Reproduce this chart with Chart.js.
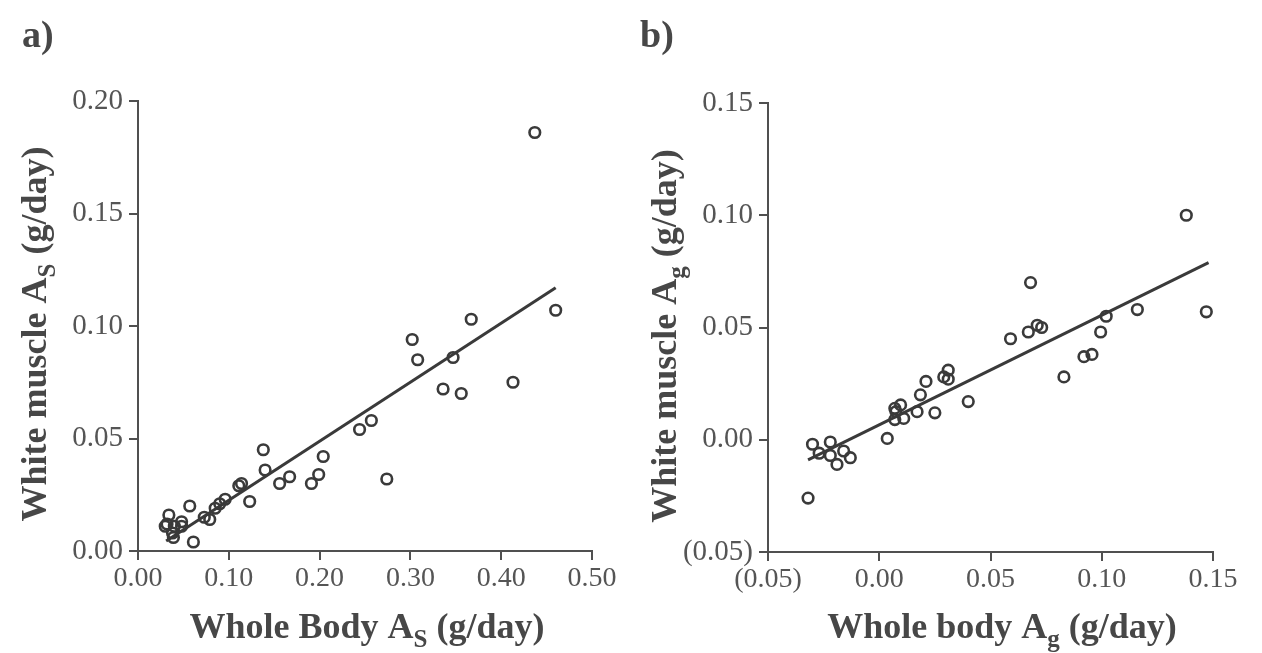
<!DOCTYPE html>
<html>
<head>
<meta charset="utf-8">
<script src="https://cdn.jsdelivr.net/npm/chart.js@4.4.1/dist/chart.umd.min.js"></script>
<style>
  html, body { margin: 0; padding: 0; background: #fff; }
  #wrap { position: relative; width: 1262px; height: 653px; overflow: hidden; }
  canvas { position: absolute; top: 0; }
  #ca { left: 0; }
  #cb { left: 631px; }
</style>
</head>
<body>
<div id="wrap">
  <canvas id="ca" width="631" height="653"></canvas>
  <canvas id="cb" width="631" height="653"></canvas>
</div>
<script>
// ---------- Panel a: Whole body A_S vs white muscle A_S (g/day) ----------
const aX = [0.437, 0.460, 0.367, 0.302, 0.308, 0.347, 0.336, 0.356, 0.413, 0.244,
            0.257, 0.274, 0.138, 0.140, 0.156, 0.167, 0.191, 0.199, 0.204, 0.123,
            0.114, 0.111, 0.096, 0.090, 0.085, 0.079, 0.073, 0.057, 0.061, 0.048,
            0.048, 0.034, 0.032, 0.040, 0.038, 0.039, 0.030];
const aY = [0.186, 0.107, 0.103, 0.094, 0.085, 0.086, 0.072, 0.070, 0.075, 0.054,
            0.058, 0.032, 0.045, 0.036, 0.030, 0.033, 0.030, 0.034, 0.042, 0.022,
            0.030, 0.029, 0.023, 0.021, 0.019, 0.014, 0.015, 0.020, 0.004, 0.013,
            0.011, 0.016, 0.012, 0.011, 0.008, 0.006, 0.011];
const aFitX = [0.031, 0.460];
const aFitY = [0.0044, 0.117];
const aXTicks = [0.00, 0.10, 0.20, 0.30, 0.40, 0.50];
const aYTicks = [0.00, 0.05, 0.10, 0.15, 0.20];

// ---------- Panel b: Whole body A_g vs white muscle A_g (g/day) ----------
const bX = [0.138, 0.147, 0.116, 0.102, 0.0995, 0.0956, 0.092, 0.083, 0.068, 0.071,
            0.073, 0.067, 0.059, 0.040, 0.031, 0.029, 0.031, 0.021, 0.0185, 0.025,
            0.017, 0.0096, 0.007, 0.0075, 0.011, 0.007, 0.0036, -0.030, -0.022, -0.027,
            -0.022, -0.016, -0.013, -0.019, -0.032];
const bY = [0.100, 0.057, 0.058, 0.055, 0.048, 0.038, 0.037, 0.028, 0.070, 0.051,
            0.050, 0.048, 0.045, 0.017, 0.031, 0.028, 0.027, 0.026, 0.020, 0.012,
            0.0125, 0.0155, 0.014, 0.0125, 0.0095, 0.009, 0.0006, -0.002, -0.001, -0.006,
            -0.007, -0.005, -0.008, -0.011, -0.026];
const bFitX = [-0.032, 0.148];
const bFitY = [-0.009, 0.0789];
const bXTicks = [-0.05, 0.00, 0.05, 0.10, 0.15];
const bYTicks = [-0.05, 0.00, 0.05, 0.10, 0.15];

// ---------- styling ----------
const INK = '#3a3a3a';
const AXIS = '#505050';
const TXT = '#474747';
const TICKTXT = '#555555';
const SERIF = '"Liberation Serif", "DejaVu Serif", serif';

function fmt(v) {
  const r = Math.round(v * 100) / 100;
  if (r < 0) return '(' + Math.abs(r).toFixed(2) + ')';
  return Math.abs(r).toFixed(2);
}
function pts(xs, ys) { return xs.map((x, i) => ({ x: x, y: ys[i] })); }

// Draws panel letter and axis titles (with subscripts) as real text.
const titlesPlugin = {
  id: 'titles',
  afterDraw(chart, args, opts) {
    const ctx = chart.ctx;
    const big = 36, small = 25;
    function runs(parts) {
      let w = 0;
      parts.forEach(p => {
        ctx.font = 'bold ' + (p[1] ? small : big) + 'px ' + SERIF;
        w += ctx.measureText(p[0]).width;
      });
      return w;
    }
    function drawRuns(parts, x0, y0) {
      let x = x0;
      parts.forEach(p => {
        ctx.font = 'bold ' + (p[1] ? small : big) + 'px ' + SERIF;
        ctx.fillText(p[0], x, y0 + (p[1] ? 9 : 0));
        x += ctx.measureText(p[0]).width;
      });
    }
    ctx.save();
    ctx.fillStyle = TXT;
    ctx.textBaseline = 'alphabetic';
    ctx.textAlign = 'left';
    // panel letter
    ctx.font = 'bold 38px ' + SERIF;
    ctx.fillText(opts.letter, opts.letterX, 47);
    // x title
    const wx = runs(opts.xTitle);
    drawRuns(opts.xTitle, opts.xTitleCx - wx / 2, 638);
    // y title (rotated)
    const wy = runs(opts.yTitle);
    ctx.translate(opts.yTitleX, opts.yTitleCy);
    ctx.rotate(-Math.PI / 2);
    drawRuns(opts.yTitle, -wy / 2, 0);
    ctx.restore();
  }
};

function makeChart(id, cfg) {
  const xs = cfg.xTicks, ys = cfg.yTicks;
  return new Chart(document.getElementById(id), {
    type: 'scatter',
    data: {
      datasets: [
        {
          data: pts(cfg.px, cfg.py),
          pointStyle: 'circle',
          pointRadius: 5.3,
          pointBorderWidth: 2.6,
          pointBackgroundColor: 'rgba(255,255,255,0)',
          pointBorderColor: INK,
          showLine: false,
          clip: false
        },
        {
          type: 'line',
          data: pts(cfg.fx, cfg.fy),
          borderColor: INK,
          borderWidth: 3,
          pointRadius: 0,
          fill: false,
          tension: 0,
          clip: false
        }
      ]
    },
    options: {
      responsive: false,
      animation: false,
      devicePixelRatio: 1,
      layout: { padding: cfg.pad },
      plugins: {
        legend: { display: false },
        tooltip: { enabled: false },
        titles: cfg.titles
      },
      scales: {
        x: {
          type: 'linear',
          min: xs[0], max: xs[xs.length - 1],
          afterBuildTicks: s => { s.ticks = xs.map(v => ({ value: v })); },
          afterFit: s => { s.height = cfg.xAxisH; },
          ticks: { callback: v => fmt(v), color: TICKTXT, padding: 2, maxRotation: 0,
                   font: { family: SERIF, size: 28 } },
          grid: { drawOnChartArea: false, drawTicks: true, tickLength: 9, color: AXIS, lineWidth: 2 },
          border: { display: true, color: AXIS, width: 2 }
        },
        y: {
          type: 'linear',
          min: ys[0], max: ys[ys.length - 1],
          afterBuildTicks: s => { s.ticks = ys.map(v => ({ value: v })); },
          afterFit: s => { s.width = cfg.yAxisW; },
          ticks: { callback: v => fmt(v), color: TICKTXT, padding: 6,
                   font: { family: SERIF, size: 29 } },
          grid: { drawOnChartArea: false, drawTicks: true, tickLength: 9, color: AXIS, lineWidth: 2 },
          border: { display: true, color: AXIS, width: 2 }
        }
      }
    },
    plugins: [titlesPlugin]
  });
}

makeChart('ca', {
  px: aX, py: aY, fx: aFitX, fy: aFitY, xTicks: aXTicks, yTicks: aYTicks,
  pad: { top: 101, right: 39, left: 0, bottom: 0 }, xAxisH: 102, yAxisW: 138,
  titles: {
    letter: 'a)', letterX: 22,
    xTitle: [['Whole Body A', false], ['S', true], [' (g/day)', false]], xTitleCx: 367,
    yTitle: [['White muscle A', false], ['S', true], [' (g/day)', false]], yTitleX: 46, yTitleCy: 334
  }
});

makeChart('cb', {
  px: bX, py: bY, fx: bFitX, fy: bFitY, xTicks: bXTicks, yTicks: bYTicks,
  pad: { top: 103, right: 49, left: 0, bottom: 0 }, xAxisH: 101, yAxisW: 137,
  titles: {
    letter: 'b)', letterX: 9,
    xTitle: [['Whole body A', false], ['g', true], [' (g/day)', false]], xTitleCx: 371,
    yTitle: [['White muscle A', false], ['g', true], [' (g/day)', false]], yTitleX: 45, yTitleCy: 336
  }
});
</script>
</body>
</html>
